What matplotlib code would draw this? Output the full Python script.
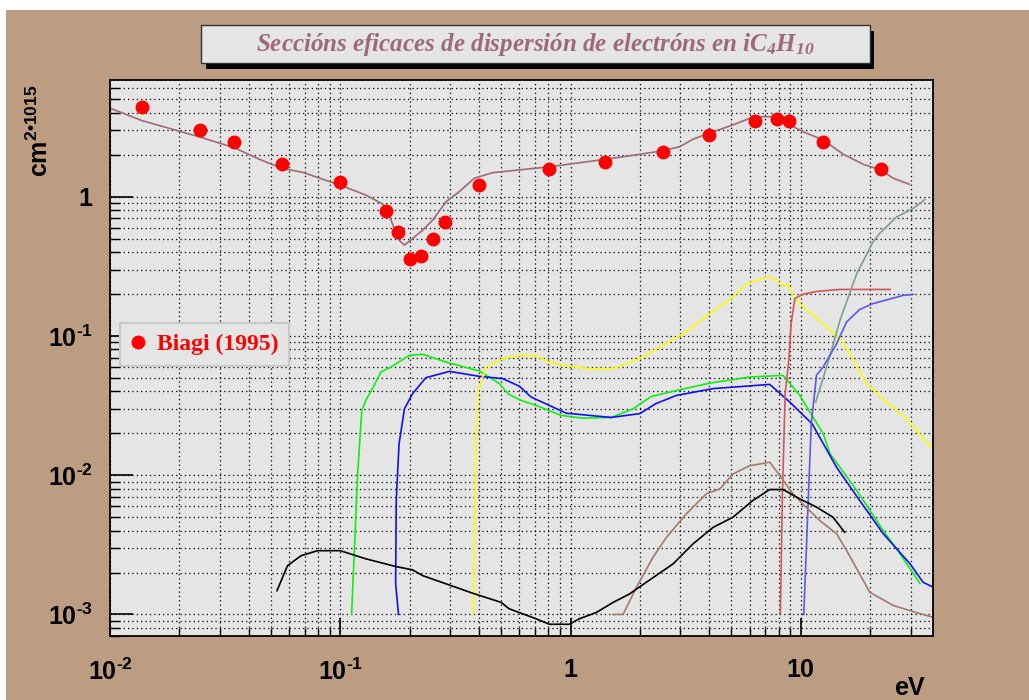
import matplotlib
matplotlib.use('Agg')
import matplotlib.pyplot as plt
from matplotlib.patches import Rectangle
from matplotlib.ticker import LogLocator, FixedLocator, FixedFormatter, NullFormatter

plt.rcParams['mathtext.fontset'] = 'custom'
plt.rcParams['mathtext.rm'] = 'Liberation Serif:bold:italic'
plt.rcParams['mathtext.it'] = 'Liberation Serif:bold:italic'
plt.rcParams['mathtext.bf'] = 'Liberation Sans:bold'

# Biagi (1995) points
biagi_x = [0.0138, 0.0247, 0.0347, 0.0558, 0.100, 0.158, 0.178, 0.201, 0.225, 0.252,
           0.284, 0.402, 0.805, 1.416, 2.51, 3.99, 6.31, 7.88, 8.87, 12.5, 22.2]
biagi_y = [4.44, 3.03, 2.47, 1.71, 1.276, 0.785, 0.554, 0.360, 0.373, 0.496,
           0.661, 1.21, 1.574, 1.768, 2.10, 2.79, 3.52, 3.64, 3.49, 2.47, 1.574]

# total cross section (mauve)
tot_x = [0.01, 0.0138, 0.0247, 0.0347, 0.0445, 0.0558, 0.0686, 0.100, 0.129, 0.153,
         0.166, 0.180, 0.190, 0.198, 0.228, 0.252, 0.288, 0.329, 0.382, 0.459, 0.60,
         0.805, 1.416, 2.0, 2.51, 2.98, 3.40, 3.99, 5.07, 6.0, 6.85, 8.1, 8.96, 10.6,
         12.5, 15.3, 18.7, 22.2, 25.2, 29.6]
tot_y = [4.33, 3.52, 2.68, 2.25, 1.86, 1.60, 1.50, 1.21, 1.03, 0.886,
         0.68, 0.488, 0.45, 0.475, 0.576, 0.68, 0.92, 1.09, 1.36, 1.49, 1.56,
         1.64, 1.86, 2.02, 2.14, 2.29, 2.59, 2.86, 3.28, 3.66, 3.76, 3.76, 3.28, 2.86,
         2.56, 2.02, 1.71, 1.56, 1.36, 1.23]

# green
grn_x = [0.112, 0.119, 0.124, 0.129, 0.138, 0.150, 0.166, 0.1995, 0.228, 0.288, 0.402,
         0.491, 0.535, 0.60, 0.71, 0.91, 1.13, 1.50, 1.87, 2.24, 2.98, 4.02, 6.0, 8.37,
         9.9, 12.5, 13.4, 17.5, 22.8, 26.1, 32.9]
grn_y = [0.001, 0.0102, 0.0292, 0.0345, 0.0419, 0.0551, 0.0598, 0.0727, 0.0739, 0.065,
         0.056, 0.0455, 0.0385, 0.0348, 0.0317, 0.0269, 0.0257, 0.0260, 0.030, 0.0368,
         0.0411, 0.0459, 0.0507, 0.0522, 0.0374, 0.0199, 0.01426, 0.00776, 0.0040,
         0.00295, 0.00167]

# blue
blu_x = [0.179, 0.174, 0.175, 0.180, 0.190, 0.206, 0.2355, 0.298, 0.402, 0.508, 0.60,
         0.675, 0.957, 1.50, 2.0, 2.35, 2.88, 4.16, 7.33, 7.84, 8.96, 11.2, 14.3, 18.0,
         22.8, 29.8, 34.0, 37.0]
blu_y = [0.001, 0.00166, 0.0066, 0.0168, 0.030, 0.0385, 0.0502, 0.0557, 0.0513, 0.0494,
         0.0435, 0.0364, 0.0279, 0.026, 0.0277, 0.0327, 0.0374, 0.0419, 0.0449, 0.0407,
         0.0335, 0.0234, 0.0114, 0.0066, 0.0038, 0.00231, 0.0017, 0.00159]

# yellow
yel_x = [0.378, 0.388, 0.397, 0.43, 0.508, 0.60, 0.71, 0.81, 0.99, 1.21, 1.53, 1.75, 2.0,
         2.44, 3.18, 4.02, 4.90, 5.81, 7.21, 7.84, 8.37, 8.8, 9.25, 9.9, 11.3, 14.8,
         16.3, 19.3, 23.6, 28.3, 37.0]
yel_y = [0.001, 0.0199, 0.0407, 0.0598, 0.0687, 0.0727, 0.072, 0.065, 0.0605, 0.0583,
         0.0583, 0.0633, 0.0687, 0.0834, 0.107, 0.145, 0.181, 0.238, 0.266, 0.252, 0.228,
         0.236, 0.196, 0.171, 0.141, 0.0958, 0.0747, 0.0455, 0.0335, 0.0261, 0.0159]

# red (thin)
red_x = [8.15, 8.32, 8.55, 8.87, 9.08, 9.42, 10.2, 11.7, 14.8, 24.4]
red_y = [0.001, 0.00735, 0.0385, 0.0668, 0.123, 0.186, 0.199, 0.209, 0.216, 0.216]

# grey-green
gry_x = [11.6, 13.2, 14.8, 17.5, 20.6, 22.0, 26.1, 30.8, 34.6]
gry_y = [0.0335, 0.0668, 0.130, 0.281, 0.475, 0.546, 0.718, 0.825, 0.958]

# violet
vio_x = [10.3, 10.8, 11.1, 11.7, 12.5, 14.3, 15.8, 18.0, 20.6, 27.9, 30.8]
vio_y = [0.001, 0.00735, 0.0234, 0.0522, 0.0598, 0.088, 0.126, 0.155, 0.171, 0.196, 0.199]

# brown
brn_x = [1.53, 1.69, 1.93, 2.28, 2.61, 3.18, 3.89, 4.45, 5.07, 6.0, 7.33, 8.1, 9.25, 10.2,
         12.1, 14.3, 15.8, 19.95, 25.2, 31.8, 37.0]
brn_y = [0.001, 0.001, 0.00156, 0.00257, 0.00358, 0.00527, 0.00735, 0.00798, 0.0102,
         0.0117, 0.0124, 0.00995, 0.00735, 0.00622, 0.00472, 0.0038, 0.00288, 0.00144,
         0.00116, 0.00103, 0.00096]

# black
blk_x = [0.0531, 0.059, 0.0675, 0.0796, 0.1, 0.129, 0.174, 0.206, 0.228, 0.376, 0.5, 0.54,
         0.6, 0.686, 0.81, 0.99, 1.09, 1.29, 1.53, 1.8, 2.13, 2.79, 3.4, 4.16, 5.07, 6.2,
         7.33, 8.37, 9.9, 11.7, 13.8, 15.5]
blk_y = [0.00148, 0.00224, 0.00264, 0.00287, 0.00287, 0.00251, 0.00221, 0.00209, 0.0019,
         0.00142, 0.00122, 0.0011, 0.00103, 0.00095, 0.00085, 0.00085, 0.00093, 0.00103,
         0.00122, 0.0014, 0.0017, 0.00231, 0.00321, 0.00422, 0.00499, 0.0066, 0.00789,
         0.00789, 0.00676, 0.0059, 0.00499, 0.00389]

xticks = [0.01, 0.1, 1, 10]
xlabels = [r'$\mathbf{10^{‐2}}$', r'$\mathbf{10^{‐1}}$', r'$\mathbf{1}$', r'$\mathbf{10}$']
yticks = [0.001, 0.01, 0.1, 1]
ylabels = [r'$\mathbf{10^{‐3}}$', r'$\mathbf{10^{‐2}}$', r'$\mathbf{10^{‐1}}$', r'$\mathbf{1}$']

W, H = 1029, 700
tan = '#bd9d82'
panel = '#e5e5e5'

fig = plt.figure(figsize=(W / 100, H / 100), dpi=100, facecolor='white')
fig.patches.append(Rectangle((6 / W, 0), 1 - 6 / W, 1 - 10 / H, transform=fig.transFigure,
                             facecolor=tan, edgecolor='none', zorder=-10))

ax = fig.add_axes([110 / W, 1 - 636 / H, (933 - 110) / W, (636 - 80) / H])
ax.set_facecolor(panel)
ax.set_xscale('log')
ax.set_yscale('log')
ax.set_xlim(0.01, 37.5)
ax.set_ylim(7.0e-4, 6.9)

lw = 1.2
ax.plot(tot_x, tot_y, color='#9c6b77', lw=lw)
ax.plot(grn_x, grn_y, color='#11ee11', lw=lw)
ax.plot(blu_x, blu_y, color='#1010f5', lw=lw)
ax.plot(yel_x, yel_y, color='#ffff00', lw=lw)
ax.plot(red_x, red_y, color='#d45555', lw=lw)
ax.plot(gry_x, gry_y, color='#80a08c', lw=lw)
ax.plot(vio_x, vio_y, color='#5a5ae6', lw=lw)
ax.plot(brn_x, brn_y, color='#a27b6a', lw=lw)
ax.plot(blk_x, blk_y, color='black', lw=lw)
ax.plot(biagi_x, biagi_y, 'o', color='#ff0000', ms=9, label='Biagi (1995)', zorder=5)

ax.xaxis.set_major_locator(FixedLocator(xticks))
ax.xaxis.set_major_formatter(FixedFormatter(xlabels))
ax.xaxis.set_minor_locator(LogLocator(base=10, subs=range(2, 10), numticks=20))
ax.xaxis.set_minor_formatter(NullFormatter())
ax.yaxis.set_major_locator(FixedLocator(yticks))
ax.yaxis.set_major_formatter(FixedFormatter(ylabels))
ax.yaxis.set_minor_locator(LogLocator(base=10, subs=range(2, 10), numticks=20))
ax.yaxis.set_minor_formatter(NullFormatter())

ax.grid(True, which='both', color='black', ls=(0, (1, 2.5)), lw=0.9)
ax.set_axisbelow(True)
ax.tick_params(axis='x', which='major', direction='in', length=13, width=1.2,
               labelsize=18, pad=16)
ax.tick_params(axis='x', which='minor', direction='in', length=6, width=1.0)
ax.tick_params(axis='y', which='major', direction='in', length=16.5, width=1.2,
               labelsize=18, pad=12)
ax.tick_params(axis='y', which='minor', direction='in', length=7, width=1.0)
for s in ax.spines.values():
    s.set_linewidth(1.3)

leg = ax.legend(loc='upper left', bbox_to_anchor=(120 / W, 1 - 323 / H),
                bbox_transform=fig.transFigure, borderaxespad=0, fancybox=False,
                framealpha=1, facecolor=panel, edgecolor='#c8c8c8',
                handlelength=0.6, handletextpad=0.5, borderpad=0.45,
                prop={'family': 'Liberation Serif', 'weight': 'bold', 'size': 17},
                labelcolor='#ff0000')
leg.get_frame().set_linewidth(1.5)

# title box with shadow
fig.patches.append(Rectangle((206 / W, 1 - 69 / H), (874 - 206) / W, (69 - 31) / H,
                             transform=fig.transFigure, facecolor='black',
                             edgecolor='none', zorder=1))
fig.patches.append(Rectangle((201 / W, 1 - 63 / H), (870 - 201) / W, (63 - 25) / H,
                             transform=fig.transFigure, facecolor=panel,
                             edgecolor='#333333', lw=1, zorder=2))
fig.text(535 / W, 1 - 44 / H,
         r'Seccións eficaces de dispersión de electróns en iC$_4$H$_{10}$',
         ha='center', va='center', color='#9c6a78', fontsize=18,
         family='Liberation Serif', weight='bold', style='italic', zorder=3)

fig.text(40 / W, 1 - 131 / H, r'$\mathbf{cm^{2•1015}}$', rotation=90,
         ha='center', va='center', fontsize=18)
fig.text(910 / W, 1 - 688 / H, r'$\mathbf{eV}$', ha='center', va='center', fontsize=18)

fig.savefig('out.png', dpi=100, facecolor=fig.get_facecolor())
